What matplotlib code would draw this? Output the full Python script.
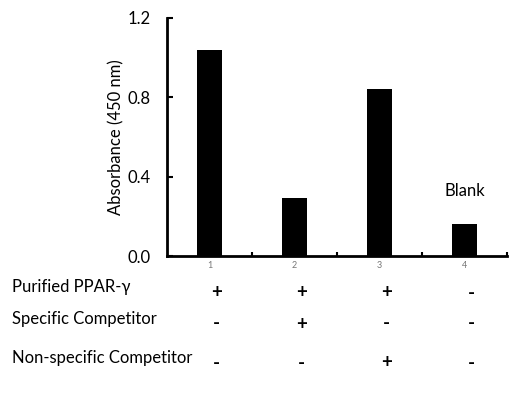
import matplotlib.pyplot as plt
import matplotlib.transforms as mtransforms

plt.rcParams['font.family'] = ['Lato', 'DejaVu Sans']

# donnees
lanes = ["1", "2", "3", "4"]
absorbance = [1.04, 0.29, 0.84, 0.16]
yticks = [0.0, 0.4, 0.8, 1.2]
row_labels = ["Purified PPAR-γ", "Specific Competitor", "Non-specific Competitor"]
signs = [["+", "+", "+", "-"],
         ["-", "+", "-", "-"],
         ["-", "-", "+", "-"]]

fig = plt.figure(figsize=(5.22, 3.93), dpi=100)
ax = fig.add_axes([0.320, 0.3486, 0.651, 0.6056])

x = list(range(len(lanes)))
ax.bar(x, absorbance, width=0.3, color="black")

ax.set_xlim(-0.5, 3.5)
ax.set_ylim(0, 1.2)
ax.set_yticks(yticks)
ax.set_yticklabels([f"{v:.1f}" for v in yticks], fontsize=12)
ax.set_ylabel("Absorbance (450 nm)", fontsize=12, labelpad=2)

# ticks entre les categories
ax.set_xticks([0.5, 1.5, 2.5, 3.5])
ax.set_xticklabels([])
ax.tick_params(axis="x", direction="in", length=3, width=1.5)
ax.tick_params(axis="y", direction="in", length=4, width=1.5, pad=12)

for s in ["top", "right"]:
    ax.spines[s].set_visible(False)
ax.spines["left"].set_linewidth(2)
ax.spines["bottom"].set_linewidth(2)

# numeros des pistes
for i, lab in enumerate(lanes):
    ax.text(i, -0.025, lab, ha="center", va="top", fontsize=6.5, color="#777777")

ax.text(3, 0.33, "Blank", ha="center", va="center", fontsize=12)

# tableau sous le graphique
trans = mtransforms.blended_transform_factory(ax.transData, fig.transFigure)
label_y = [287, 319, 358]
sign_y = [293, 324, 363]
for r, lab in enumerate(row_labels):
    fig.text(12 / 522, 1 - label_y[r] / 393, lab, ha="left", va="center", fontsize=12)
    for c, s in enumerate(signs[r]):
        ax.text(c + 0.08, 1 - sign_y[r] / 393, s, transform=trans, ha="center",
                va="center", fontsize=13.5, fontweight="bold", clip_on=False)

fig.savefig("out.png", dpi=100)
